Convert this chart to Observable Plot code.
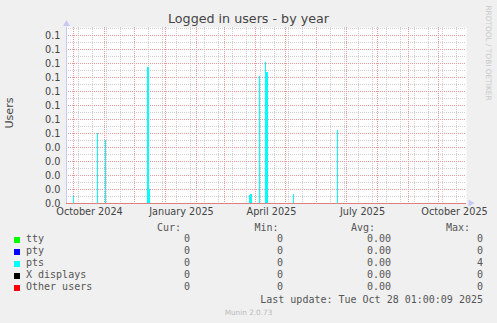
<!DOCTYPE html>
<html>
<head>
<meta charset="utf-8">
<script src="https://cdn.jsdelivr.net/npm/d3@7"></script>
<script src="https://cdn.jsdelivr.net/npm/@observablehq/plot@0.6"></script>
<style>
html, body { margin: 0; padding: 0; background: #f0f0f0; }
#c { position: relative; width: 497px; height: 323px; overflow: hidden; background: #f0f0f0; font-family: "DejaVu Sans", sans-serif; }
#c > svg { position: absolute; left: 0; top: 0; }
.t { position: absolute; white-space: pre; line-height: 1; }
.m { font-family: "DejaVu Sans Mono", monospace; font-size: 10px; color: #555; }
.sq { position: absolute; width: 6px; height: 6px; }
</style>
</head>
<body>
<div id="c"></div>
<script>
// ---------------- data ----------------
const titleText = "Logged in users - by year";
const yLabelText = "Users";
const seriesNames = ["tty", "pty", "pts", "X displays", "Other users"];
const seriesColors = ["#00ff00", "#0000ff", "#00ffff", "#000000", "#ff0000"];
const curValues = ["0", "0", "0", "0", "0"];
const minValues = ["0", "0", "0", "0", "0"];
const avgValues = ["0.00", "0.00", "0.00", "0.00", "0.00"];
const maxValues = ["0", "0", "4", "0", "0"];
const lastUpdate = "Last update: Tue Oct 28 01:00:09 2025";
const footer = "Munin 2.0.73";
const watermark = "RRDTOOL / TOBI OETIKER";

// pts (cyan) daily averages, non-zero days only
const ptsDates = ["2024-10-01", "2024-10-25", "2024-11-02", "2024-12-14", "2024-12-15", "2024-12-16",
  "2025-03-26", "2025-03-27", "2025-03-28", "2025-04-05", "2025-04-11", "2025-04-12", "2025-04-13",
  "2025-05-09", "2025-06-22"];
const ptsValues = [0.0052, 0.0498, 0.0450, 0.0974, 0.0974, 0.0100,
  0.0055, 0.0064, 0.0064, 0.0907, 0.1005, 0.0936, 0.0936,
  0.0064, 0.0520];

const xDomain = ["2024-09-24", "2025-10-29"];
const yDomain = [0, 0.1257];
const xLabelDates = ["2024-10-17", "2025-01-17", "2025-04-17", "2025-07-17", "2025-10-17"];
const xLabels = ["October 2024", "January 2025", "April 2025", "July 2025", "October 2025"];
const yTicks = [0, 0.01, 0.02, 0.03, 0.04, 0.05, 0.06, 0.07, 0.08, 0.09, 0.10, 0.11, 0.12];
const yTickLabels = ["0.0", "0.0", "0.0", "0.0", "0.0", "0.1", "0.1", "0.1", "0.1", "0.1", "0.1", "0.1", "0.1"];

// ---------------- chart ----------------
const X0 = new Date(xDomain[0]), X1 = new Date(xDomain[1]);
const pts = ptsDates.map((d, i) => {
  const s = new Date(d);
  return {start: s, end: d3.utcDay.offset(s, 1), value: ptsValues[i]};
});
const majorX = d3.utcMonth.range(X0, X1);
const minorX = d3.utcDay.range(new Date("2024-09-22"), X1, 14).filter(d => d >= X0);
const minorY = yTicks.map(v => +(v + 0.005).toFixed(3));
const xLabelMap = new Map(xLabelDates.map((d, i) => [+new Date(d), xLabels[i]]));
const yLabelMap = new Map(yTicks.map((v, i) => [v, yTickLabels[i]]));

const gridMinor = "#cfcfcf";
const gridMajor = "#e79a9a";
const axisBlue = "#c8c8f4";

const chart = Plot.plot({
  width: 497,
  height: 216,
  marginLeft: 66,
  marginRight: 31,
  marginTop: 27,
  marginBottom: 13,
  style: {background: "transparent", fontFamily: "'DejaVu Sans', sans-serif", fontSize: "9.7px", color: "#444", overflow: "visible"},
  x: {type: "utc", domain: [X0, X1]},
  y: {domain: yDomain},
  marks: [
    Plot.frame({fill: "white", stroke: "none"}),
    Plot.ruleY(minorY, {stroke: gridMinor, strokeDasharray: "1,1"}),
    Plot.ruleX(minorX, {stroke: gridMinor, strokeDasharray: "1,1"}),
    Plot.ruleY(yTicks.filter(v => v > 0), {stroke: gridMajor, strokeDasharray: "1,1"}),
    Plot.ruleX(majorX, {stroke: gridMajor, strokeDasharray: "1,1"}),
    Plot.rectY(pts, {x1: "start", x2: "end", y: "value", fill: "#00ffff", shapeRendering: "crispEdges"}),
    Plot.ruleY([0], {stroke: "#dd8080"}),
    Plot.ruleX([X0], {stroke: axisBlue}),
    Plot.dot([0], {frameAnchor: "top-left", symbol: "triangle", r: 2.6, fill: axisBlue, stroke: "none", dy: -3.5}),
    Plot.dot([0], {frameAnchor: "bottom-right", symbol: "triangle", r: 2.6, fill: axisBlue, stroke: "none", rotate: 90, dx: 4, dy: -0.5}),
    Plot.axisY(yTicks, {tickSize: 0, tickPadding: 6, label: null, fill: "#444", fontSize: 9.7, tickFormat: v => yLabelMap.get(v)}),
    Plot.axisX(xLabelDates.map(d => new Date(d)), {tickSize: 0, tickPadding: 5, label: null, fill: "#444", fontSize: 9.7, tickFormat: d => xLabelMap.get(+d)})
  ]
});

const c = document.getElementById("c");
c.appendChild(chart);

// ---------------- text around the chart ----------------
function addText(txt, style, cls = "t") {
  const el = document.createElement("div");
  el.className = cls;
  el.textContent = txt;
  Object.assign(el.style, style);
  c.appendChild(el);
  return el;
}
// title (baseline ~23.3)
addText(titleText, {left: "0px", width: "497px", textAlign: "center", top: "12.6px", fontSize: "12.7px", color: "#444"});
// y label
addText(yLabelText, {left: "10.3px", top: "113px", fontSize: "11.1px", color: "#444", transform: "translate(-50%,-50%) rotate(-90deg)"});
// watermark
addText(watermark, {left: "488px", top: "53px", fontSize: "7.4px", color: "#c8c8c8", transform: "translate(-50%,-50%) rotate(90deg)"});

// legend headers (baseline ~231.7)
const hdrTop = 223.2;
addText("Cur:", {left: "157px", top: hdrTop + "px"}, "t m");
addText("Min:", {left: "254.5px", top: hdrTop + "px"}, "t m");
addText("Avg:", {left: "351px", top: hdrTop + "px"}, "t m");
addText("Max:", {left: "446px", top: hdrTop + "px"}, "t m");

const colRights = [190, 283, 391, 483];
seriesNames.forEach((name, i) => {
  const base = 242.4 + 12 * i;
  const top = base - 8.46;
  const sq = document.createElement("div");
  sq.className = "sq";
  Object.assign(sq.style, {left: "14px", top: (base - 5.4) + "px", background: seriesColors[i]});
  c.appendChild(sq);
  addText(name, {left: "26px", top: top + "px"}, "t m");
  [curValues[i], minValues[i], avgValues[i], maxValues[i]].forEach((v, j) => {
    addText(v, {right: (497 - colRights[j]) + "px", top: top + "px", textAlign: "right"}, "t m");
  });
});
addText(lastUpdate, {right: (497 - 483) + "px", top: (303.3 - 8.46) + "px", textAlign: "right"}, "t m");
addText(footer, {left: "0px", width: "497px", textAlign: "center", top: "309.2px", fontSize: "7.3px", color: "#bbbbbb"});
</script>
</body>
</html>
